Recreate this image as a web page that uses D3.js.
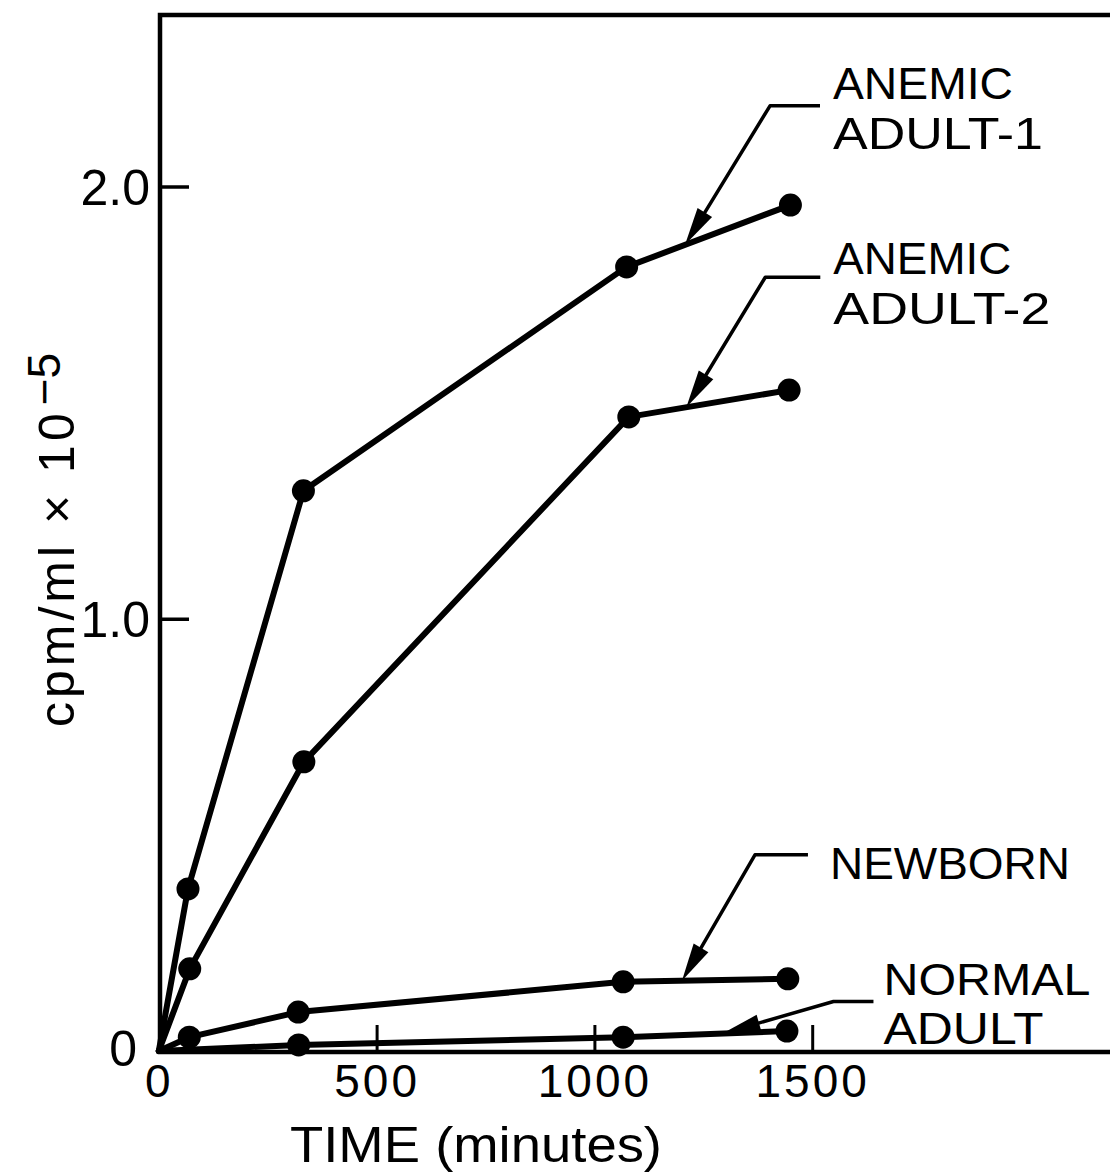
<!DOCTYPE html>
<html>
<head>
<meta charset="utf-8">
<script src="https://cdn.jsdelivr.net/npm/d3@7/dist/d3.min.js"></script>
<style>
  html, body { margin: 0; padding: 0; background: #fff; }
  svg { display: block; }
  text { font-family: "Liberation Sans", Arial, sans-serif; fill: #000; }
</style>
</head>
<body>
<svg id="chart" width="1110" height="1176"></svg>
<script>
// Uptake over time, cpm/ml x 10^-5
const seriesNames = ["ANEMIC ADULT-1", "ANEMIC ADULT-2", "NEWBORN", "NORMAL ADULT"];

const timesAnemic1  = [0, 67, 332, 1074, 1450];
const valuesAnemic1 = [0, 0.375, 1.296, 1.814, 1.957];

const timesAnemic2  = [0, 71, 333, 1079, 1447];
const valuesAnemic2 = [0, 0.19, 0.669, 1.467, 1.529];

const timesNewborn  = [0, 70, 320, 1066, 1444];
const valuesNewborn = [0, 0.032, 0.090, 0.160, 0.167];

const timesNormal   = [0, 321, 1066, 1442];
const valuesNormal  = [0, 0.014, 0.032, 0.046];

const xTickValues = [0, 500, 1000, 1500];
const xTickLabels = ["0", "500", "1000", "1500"];
const yTickValues = [0, 1, 2];
const yTickLabels = ["0", "1.0", "2.0"];

// Label lines for each curve and the time at which its arrow meets the curve
const labelLines = [["ANEMIC", "ADULT-1"], ["ANEMIC", "ADULT-2"], ["NEWBORN"], ["NORMAL", "ADULT"]];
const arrowTimes = [1208, 1211, 1201, 1294];

const series = [
  { times: timesAnemic1, values: valuesAnemic1 },
  { times: timesAnemic2, values: valuesAnemic2 },
  { times: timesNewborn, values: valuesNewborn },
  { times: timesNormal,  values: valuesNormal }
].map((s, i) => ({
  name: seriesNames[i],
  points: s.times.map((t, j) => ({ t, v: s.values[j] }))
}));

// Layout of the leader lines (pixel offsets from the arrow tip) and label text
const calloutLayout = [
  { elbow: [85, -139], run: 50, textDx: 63, baselines: [-7, 43], widths: [180, 210] },
  { elbow: [79, -130], run: 55, textDx: 68, baselines: [-3, 47], widths: [178, 217] },
  { elbow: [73, -126], run: 53, textDx: 75, baselines: [24],     widths: [240] },
  { elbow: [111, -32], run: 40, textDx: 50, baselines: [-6, 43], widths: [207, 160] }
];

const svg = d3.select("#chart");

const frame = { left: 160, top: 15, bottom: 1052, right: 1118 };

const x = d3.scaleLinear().domain([0, 1500]).range([158.8, 812.2]);
const y = d3.scaleLinear().domain([0, 2]).range([1051, 186.5]);

// Frame
svg.append("path")
  .attr("d", `M${frame.right},${frame.top} H${frame.left} V${frame.bottom} H${frame.right}`)
  .attr("fill", "none")
  .attr("stroke", "#000")
  .attr("stroke-width", 4.5);

// Y axis: inward ticks
const yAxis = d3.axisLeft(y)
  .tickValues(yTickValues)
  .tickFormat((d, i) => yTickLabels[i])
  .tickSizeInner(-29)
  .tickSizeOuter(0)
  .tickPadding(10);

const gy = svg.append("g")
  .attr("transform", `translate(${frame.left},0)`)
  .call(yAxis);
gy.select(".domain").remove();
gy.selectAll(".tick line").attr("stroke", "#000").attr("stroke-width", 3.5)
  .attr("display", d => d === 0 ? "none" : null);
gy.selectAll(".tick text")
  .attr("font-size", 50)
  .attr("font-family", "'DejaVu Sans', sans-serif")
  .attr("fill", "#000")
  .attr("x", d => d === 0 ? -23 : -10)
  .attr("dy", d => d === 0 ? "0.28em" : "0.36em");

// X axis: inward ticks
const xAxis = d3.axisBottom(x)
  .tickValues(xTickValues)
  .tickFormat((d, i) => xTickLabels[i])
  .tickSizeInner(-27)
  .tickSizeOuter(0)
  .tickPadding(12);

const gx = svg.append("g")
  .attr("transform", `translate(0,${frame.bottom})`)
  .call(xAxis);
gx.select(".domain").remove();
gx.selectAll(".tick line").attr("stroke", "#000").attr("stroke-width", 3)
  .attr("display", d => d === 0 ? "none" : null);
gx.selectAll(".tick text")
  .attr("font-size", 46)
  .attr("font-family", "'DejaVu Sans', sans-serif")
  .attr("letter-spacing", 3)
  .attr("fill", "#000");

// Axis titles
svg.append("text")
  .attr("x", 290)
  .attr("y", 1162)
  .attr("font-size", 50)
  .attr("textLength", 372)
  .attr("lengthAdjust", "spacingAndGlyphs")
  .text("TIME (minutes)");

const yTitle = svg.append("text")
  .attr("transform", "translate(74,727) rotate(-90)")
  .attr("font-size", 50);
yTitle.append("tspan")
  .attr("letter-spacing", 4)
  .text("cpm/ml \u00d7 10");
yTitle.append("tspan")
  .attr("font-size", 46)
  .attr("dx", 4)
  .attr("dy", -14)
  .text("\u22125");

// Curves
const line = d3.line().x(d => x(d.t)).y(d => y(d.v));

const curves = svg.append("g");
curves.selectAll("path")
  .data(series)
  .join("path")
  .attr("d", d => line(d.points))
  .attr("fill", "none")
  .attr("stroke", "#000")
  .attr("stroke-width", 6)
  .attr("stroke-linejoin", "round")
  .attr("stroke-linecap", "round");

curves.selectAll("g.dots")
  .data(series)
  .join("g")
  .attr("class", "dots")
  .selectAll("circle")
  .data(d => d.points.filter(p => p.t > 0))
  .join("circle")
  .attr("cx", d => x(d.t))
  .attr("cy", d => y(d.v))
  .attr("r", 11.5)
  .attr("fill", "#000");

// Callouts: leader line with filled arrowhead ending on the curve
function valueAt(points, t) {
  for (let i = 1; i < points.length; i++) {
    const a = points[i - 1], b = points[i];
    if (t >= a.t && t <= b.t) return a.v + (b.v - a.v) * (t - a.t) / (b.t - a.t);
  }
  return points[points.length - 1].v;
}

const callouts = svg.append("g");
series.forEach((s, i) => {
  const L = calloutLayout[i];
  const tipX = x(arrowTimes[i]);
  const tipY = y(valueAt(s.points, arrowTimes[i]));
  const ex = tipX + L.elbow[0], ey = tipY + L.elbow[1];

  const dx = tipX - ex, dy = tipY - ey;
  const len = Math.hypot(dx, dy);
  const ux = dx / len, uy = dy / len;
  const headLen = 38, headHalf = 8.5;
  const bx = tipX - ux * headLen, by = tipY - uy * headLen;

  callouts.append("path")
    .attr("d", `M${ex + L.run},${ey} H${ex} L${bx + ux * 4},${by + uy * 4}`)
    .attr("fill", "none")
    .attr("stroke", "#000")
    .attr("stroke-width", 3.5)
    .attr("stroke-linejoin", "round");

  callouts.append("path")
    .attr("d", `M${tipX},${tipY} L${bx - uy * headHalf},${by + ux * headHalf} L${bx + uy * headHalf},${by - ux * headHalf} Z`)
    .attr("fill", "#000");

  // One text block per label; each line is a tspan
  const label = callouts.append("text")
    .attr("font-size", 45);
  labelLines[i].forEach((txt, k) => {
    label.append("tspan")
      .attr("x", ex + L.textDx)
      .attr("y", ey + L.baselines[k])
      .attr("textLength", L.widths[k])
      .attr("lengthAdjust", "spacingAndGlyphs")
      .text(txt);
  });
});
</script>
</body>
</html>
